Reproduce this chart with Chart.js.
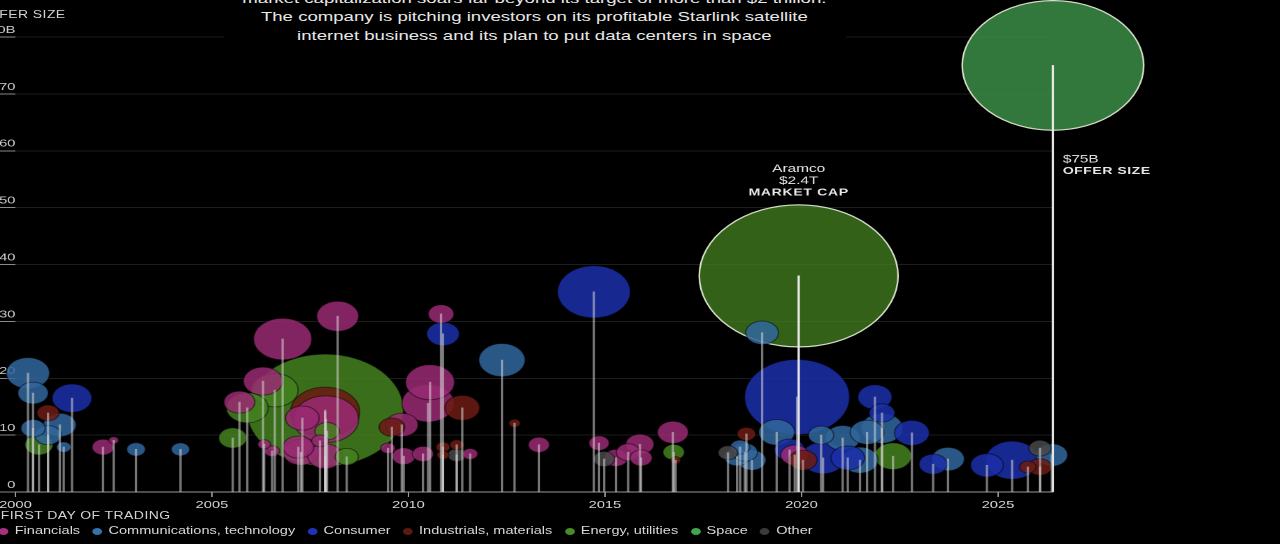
<!DOCTYPE html>
<html>
<head>
<meta charset="utf-8">
<script src="https://cdn.jsdelivr.net/npm/chart.js@4.4.1/dist/chart.umd.min.js"></script>
<style>
  html, body { margin: 0; padding: 0; background: #000; overflow: hidden; }
  body { width: 1280px; height: 544px; position: relative; font-family: "Liberation Sans", Arial, Helvetica, sans-serif; }
  /* the reference is a horizontally stretched graphic, so the whole stage is stretched the same way */
  #stage { position: absolute; left: 0; top: 0; width: 915px; height: 544px; transform: scaleX(1.3989); transform-origin: 0 0; }
  #c { position: absolute; left: 0; top: 0; }
  .lead { position: absolute; left: 160px; top: -10.25px; width: 444px; background: #000; color: #e8e8e8;
          font-size: 13.3px; line-height: 18.5px; text-align: center; white-space: nowrap; }
  .axis-title { position: absolute; color: #d2d2d2; font-size: 10px; line-height: 12px; letter-spacing: 0.3px; white-space: nowrap; }
  .legend { position: absolute; left: -1px; top: 524px; display: flex; gap: 8.8px; color: #d8d8d8;
            font-size: 10.4px; line-height: 14px; white-space: nowrap; }
  .legend .item { display: flex; align-items: center; }
  .legend i { display: inline-block; width: 7px; height: 7px; border-radius: 50%; margin-right: 4.5px; }
</style>
</head>
<body>
<div id="stage">
  <canvas id="c" width="915" height="544" style="width:915px;height:544px"></canvas>
  <div class="lead">market capitalization soars far beyond its target of more than $2 trillion.<br>The company is pitching investors on its profitable Starlink satellite<br>internet business and its plan to put data centers in space</div>
  <div class="axis-title" style="left:-15px;top:9px">OFFER SIZE</div>
  <div class="axis-title" style="left:0.5px;top:510px">FIRST DAY OF TRADING</div>
  <div class="legend" id="legend"></div>
</div>
<script>
const sectors = ['Financials', 'Communications, technology', 'Consumer', 'Industrials, materials', 'Energy, utilities', 'Space', 'Other'];
const sectorColors = ['#982a72', '#31679c', '#1b2fa8', '#6a1b13', '#43801f', '#3a8a45', '#474747'];
const legendColors = ['#a8307e', '#3672aa', '#1f33b8', '#5c1a12', '#4a8c25', '#42a452', '#3a3a3a'];

// [first day of trading (decimal year), offer size $B, market cap $B]
const aramco = [2019.93, 38.0, 2400];
const spacex = [2026.4, 75.0, 2000];

const financials = [
    [2002.23, 7.9, 29], [2002.5, 9.1, 6], [2005.7, 15.8, 58], [2006.3, 19.5, 93],
    [2006.33, 8.4, 10], [2006.53, 7.2, 14], [2006.8, 26.9, 206], [2007.2, 7.9, 58],
    [2007.27, 7.0, 80], [2007.3, 13.0, 69], [2007.9, 12.8, 260], [2007.75, 9.0, 17],
    [2007.88, 6.3, 74], [2008.2, 30.9, 107], [2009.48, 7.7, 13], [2009.83, 11.8, 65],
    [2009.88, 6.3, 33], [2010.37, 6.7, 27], [2010.55, 19.3, 146], [2010.5, 15.6, 166],
    [2010.83, 31.3, 40], [2011.57, 6.7, 14], [2013.32, 8.3, 27], [2014.85, 8.6, 25],
    [2015.28, 6.0, 34], [2015.59, 7.0, 34], [2015.89, 8.4, 48], [2015.92, 6.0, 30],
    [2016.73, 10.5, 58], [2019.83, 6.5, 48]
];
const communications = [
    [2000.32, 20.9, 114], [2000.45, 17.4, 56], [2000.45, 11.2, 36], [2000.83, 10.0, 43],
    [2001.13, 11.8, 65], [2001.23, 7.9, 13], [2003.07, 7.5, 21], [2004.2, 7.5, 20],
    [2012.38, 23.2, 130], [2018.36, 6.2, 39], [2018.44, 7.9, 23], [2018.56, 7.0, 39],
    [2018.74, 5.6, 48], [2019.0, 28.0, 65], [2019.37, 10.5, 78], [2020.5, 10.0, 39],
    [2021.05, 9.5, 74], [2021.49, 5.6, 80], [2021.67, 10.5, 69], [2022.05, 11.2, 107],
    [2023.73, 5.8, 65], [2026.37, 6.5, 61]
];
const consumer = [
    [2001.44, 16.5, 96], [2010.88, 27.8, 65], [2014.72, 35.2, 322], [2019.89, 16.7, 670],
    [2019.7, 7.4, 56], [2020.55, 6.0, 119], [2021.18, 6.0, 69], [2021.87, 16.7, 71],
    [2022.05, 13.9, 40], [2022.81, 10.4, 74], [2023.35, 4.9, 48], [2024.72, 4.7, 65],
    [2025.36, 5.6, 172]
];
const industrials = [
    [2000.83, 13.9, 30], [2007.88, 14.1, 290], [2009.58, 11.4, 40], [2010.88, 7.9, 12],
    [2010.88, 6.5, 9], [2011.23, 8.3, 12], [2011.37, 14.8, 74], [2012.7, 12.1, 8],
    [2016.8, 5.6, 6], [2018.6, 10.2, 21], [2020.04, 5.6, 48], [2025.76, 4.4, 17],
    [2026.07, 4.4, 33]
];
const energy = [
    [2000.6, 8.3, 48], [2005.53, 9.5, 48], [2005.9, 14.8, 107], [2006.6, 17.9, 133],
    [2007.88, 14.4, 1493], [2007.93, 10.7, 36], [2008.43, 6.2, 33], [2016.75, 7.0, 28],
    aramco, [2022.33, 6.3, 84]
];
const space = [spacex];
const other = [
    [2011.23, 6.5, 20], [2014.98, 5.8, 27], [2018.13, 6.9, 23], [2026.07, 7.7, 30]
];

const yearTicks = [2000, 2005, 2010, 2015, 2020, 2025];

const capRadius = cap => 1.45 * Math.sqrt(cap);

function rgba(hex, a) {
    const n = parseInt(hex.slice(1), 16);
    return `rgba(${n >> 16}, ${(n >> 8) & 255}, ${n & 255}, ${a})`;
}

// one list of bubbles, largest first so small ones sit on top
let points = [];
[financials, communications, consumer, industrials, energy, space, other].forEach((rows, s) => {
    rows.forEach(row => {
        points.push({ x: row[0], y: row[1], r: capRadius(row[2]), cap: row[2], sector: s });
    });
});
points.sort((a, b) => b.cap - a.cap);
const stems = points.map(p => ({ x: p.x, y: p.y }));
const isHighlight = p => p && p.cap >= 2000;

// legend
const legendEl = document.getElementById('legend');
sectors.forEach((name, i) => {
    const item = document.createElement('span');
    item.className = 'item';
    item.innerHTML = `<i style="background:${legendColors[i]}"></i>${name}`;
    legendEl.appendChild(item);
});

const callouts = {
    id: 'callouts',
    afterDatasetsDraw(chart) {
        const { ctx, scales: { x, y } } = chart;
        ctx.save();
        ctx.fillStyle = '#e8e8e8';
        ctx.textBaseline = 'middle';

        const ax = x.getPixelForValue(aramco[0]);
        const aTop = y.getPixelForValue(aramco[1]) - capRadius(aramco[2]);
        ctx.textAlign = 'center';
        ctx.font = '11px "Liberation Sans", Arial, sans-serif';
        ctx.fillText('Aramco', ax, aTop - 36);
        ctx.fillText('$' + (aramco[2] / 1000).toFixed(1) + 'T', ax, aTop - 24);
        ctx.font = 'bold 10px "Liberation Sans", Arial, sans-serif';
        ctx.letterSpacing = '0.5px';
        ctx.fillText('MARKET CAP', ax, aTop - 12);

        const sx = x.getPixelForValue(spacex[0]) + 7;
        const sBottom = y.getPixelForValue(spacex[1]) + capRadius(spacex[2]);
        ctx.textAlign = 'left';
        ctx.letterSpacing = '0px';
        ctx.font = '11px "Liberation Sans", Arial, sans-serif';
        ctx.fillText('$' + spacex[1] + 'B', sx, sBottom + 29);
        ctx.font = 'bold 10px "Liberation Sans", Arial, sans-serif';
        ctx.letterSpacing = '0.4px';
        ctx.fillText('OFFER SIZE', sx, sBottom + 41);
        ctx.restore();
    }
};

Chart.defaults.font.family = '"Liberation Sans", Arial, sans-serif';

new Chart(document.getElementById('c'), {
    type: 'bubble',
    data: {
        datasets: [
            {
                type: 'bar',
                data: stems,
                barThickness: 1,
                clip: false,
                backgroundColor: ctx => isHighlight(points[ctx.dataIndex]) ? 'rgba(240,240,240,0.95)' : 'rgba(215,215,215,0.55)'
            },
            {
                type: 'bubble',
                data: points,
                clip: false,
                backgroundColor: ctx => {
                    if (!ctx.raw) return '#888';
                    return rgba(sectorColors[ctx.raw.sector], ctx.raw.cap >= 2400 ? 0.76 : 0.86);
                },
                borderColor: ctx => isHighlight(ctx.raw) ? '#d4dcc6' : 'rgba(0,0,0,0.45)',
                borderWidth: ctx => isHighlight(ctx.raw) ? 1.2 : 1,
                hoverRadius: 0
            }
        ]
    },
    options: {
        responsive: false,
        animation: false,
        devicePixelRatio: 2,
        events: [],
        layout: { autoPadding: false, padding: { top: 37, right: 162.3, bottom: 0, left: 0 } },
        plugins: { legend: { display: false }, tooltip: { enabled: false } },
        scales: {
            x: {
                type: 'linear',
                min: 2000,
                max: 2026.4,
                offset: false,
                afterBuildTicks: scale => { scale.ticks = yearTicks.map(v => ({ value: v })); },
                afterFit: scale => { scale.height = 52; scale.paddingLeft = 0; scale.paddingRight = 0; },
                grid: { offset: false, drawOnChartArea: false, drawTicks: true, tickLength: 5, tickColor: '#9a9a9a' },
                border: { color: '#9a9a9a', width: 1 },
                ticks: { color: '#dadada', font: { size: 10.5 }, padding: 2, maxRotation: 0, autoSkip: false, callback: v => String(v) }
            },
            y: {
                min: 0,
                max: 80,
                afterFit: scale => { scale.width = 11; scale.paddingTop = 0; scale.paddingBottom = 0; },
                grid: { color: '#1d1d1d', drawTicks: true, tickLength: 11, tickColor: '#8a8a8a' },
                border: { display: false },
                ticks: {
                    stepSize: 10,
                    color: '#cfcfcf',
                    font: { size: 10.5 },
                    padding: -11,
                    labelOffset: -7,
                    callback: v => v === 80 ? '80B' : String(v)
                }
            }
        }
    },
    plugins: [callouts]
});
</script>
</body>
</html>
